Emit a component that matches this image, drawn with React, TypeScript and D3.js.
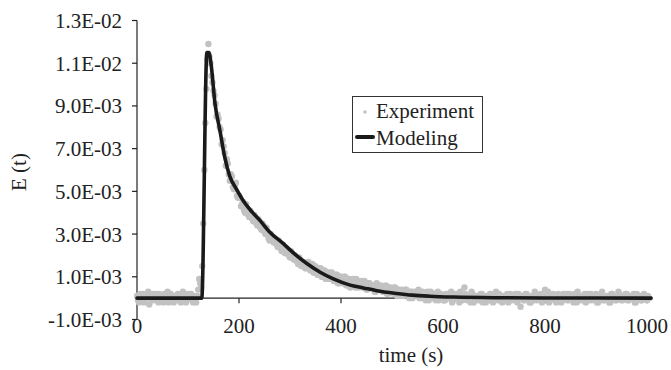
import React from "react";
import * as d3 from "d3";

// ---- Data ----
// Experiment: two interleaved sample sets, every 4 s; values in units of 1E-4
const EXP_STEP = 4;
const EXP_UNIT = 1e-4;
// set A: t = 0, 4, 8, ... 1004
const experimentA: number[] = [
  1, -2, 0, 2, -1, 1, -3, 0, 2, -1,
  0, 2, -1, -2, 1, 3, -1, 0, -2, 1,
  2, -1, 0, 1, -2, 2, 0, -1, 1, -2,
  4, 7, 15, 60, 98, 119, 110, 101, 95, 85,
  84, 79, 74, 68, 65, 58, 58, 52, 53, 48,
  48, 43, 45, 40, 42, 38, 40, 36, 38, 34,
  36, 32, 34, 30, 31, 27, 29, 26, 27, 24,
  25, 22, 24, 21, 22, 19, 21, 18, 19, 16,
  18, 15, 16, 14, 17, 13, 16, 12, 14, 11,
  14, 10, 13, 9, 12, 10, 11, 8, 11, 7,
  10, 8, 10, 6, 9, 7, 9, 5, 8, 6,
  8, 5, 7, 4, 7, 5, 6, 3, 6, 4,
  5, 3, 6, 2, 5, 3, 5, 2, 4, 1,
  4, 2, 4, 1, 3, 0, 3, 2, 4, 0,
  3, 1, 2, -1, 3, 0, 2, 1, -1, 2,
  1, -1, 2, 0, 3, -1, 1, 2, -2, 1,
  0, 2, -1, 1, 3, -2, 0, 1, -1, 2,
  0, -2, 1, 2, -1, 0, 3, -1, 1, -2,
  1, 0, -2, 2, 1, -1, 0, 2, -4, 1,
  -1, 2, 0, -2, 1, 3, -1, 0, 2, -1,
  4, 0, -2, 1, 2, -1, 0, 1, -2, 2,
  0, -1, 2, 1, -2, 0, 3, -1, 1, 0,
  -2, 2, 1, -1, 0, 2, -2, 1, 3, -1,
  0, 1, -2, 2, 0, -1, 3, 1, -1, 0,
  2, -1, 1, 0, -2, 2, 1, -1, 0, 1,
  -1, 0,
];
// set B: t = 2, 6, 10, ... 1002
const experimentB: number[] = [
  -1, 2, 1, -2, 0, 3, 1, -1, 0, 2,
  -2, 1, 0, 2, -1, -2, 2, 1, 0, -1,
  1, -2, 3, 0, -1, 1, 2, -2, 0, 1,
  9, 5, 35, 82, 112, 113, 104, 97, 91, 86,
  80, 72, 71, 62, 63, 55, 57, 51, 54, 47,
  47, 44, 41, 44, 39, 41, 37, 39, 35, 37,
  33, 35, 31, 33, 28, 30, 27, 28, 25, 27,
  23, 25, 21, 23, 20, 22, 19, 20, 17, 19,
  15, 17, 14, 16, 14, 16, 12, 15, 11, 14,
  10, 13, 9, 12, 9, 12, 8, 11, 7, 10,
  7, 10, 6, 9, 5, 8, 6, 9, 5, 7,
  5, 8, 4, 7, 5, 6, 3, 7, 4, 6,
  3, 5, 2, 5, 4, 2, 5, 1, 4, 3,
  1, 4, 2, 0, 3, 2, 1, 3, 0, 2,
  2, -1, 3, 1, 0, 2, -1, 3, 1, 0,
  -1, 2, 0, 1, -2, 2, 1, 0, 3, -1,
  5, 0, 1, -2, 2, 0, -1, 1, 2, -2,
  1, 0, -1, 2, -2, 1, 0, 2, -1, 1,
  -1, 2, 0, -1, 1, 2, -2, 0, 1, -1,
  2, 0, -2, 1, -1, 2, 0, 1, -2, 1,
  0, 3, -1, 1, 0, -2, 2, 1, -1, 0,
  2, -1, 0, 1, 2, -2, 1, 0, -1, 2,
  0, -1, 2, 0, 1, -2, 1, 2, -1, 0,
  1, -2, 2, 0, -1, 1, 2, -1, 0, 2,
  -1, 1, 0, 2, -2, 0, 1, -1, 2, 0,
  1,
];

// Modeling curve: time (s) and E(t)
const modelTimes: number[] = [
  0, 127, 137, 141, 145, 153, 163, 172, 182, 195, 208, 225, 241, 260, 287,
  310, 333, 360, 385, 418, 444, 470, 509, 540, 574, 620, 700, 800, 900, 1008,
];
const modelValues: number[] = [
  0, 0, 11.5e-3, 11.5e-3, 11.0e-3, 9.1e-3, 7.8e-3, 6.6e-3, 5.7e-3, 5.1e-3,
  4.57e-3, 4.05e-3, 3.64e-3, 3.1e-3, 2.55e-3, 2.05e-3, 1.62e-3, 1.2e-3,
  0.9e-3, 0.61e-3, 0.48e-3, 0.35e-3, 0.22e-3, 0.14e-3, 0.09e-3, 0.05e-3,
  0.02e-3, 0.01e-3, 0.01e-3, 0,
];

const yTicks: number[] = [-1e-3, 1e-3, 3e-3, 5e-3, 7e-3, 9e-3, 11e-3, 13e-3];
const yTickLabels: string[] = [
  "-1.0E-03", "1.0E-03", "3.0E-03", "5.0E-03", "7.0E-03", "9.0E-03", "1.1E-02", "1.3E-02",
];
const xTicks: number[] = [0, 200, 400, 600, 800, 1000];
const legendLabels: string[] = ["Experiment", "Modeling"];

export default function App() {
  const W = 671;
  const H = 370;
  const x = d3.scaleLinear().domain([0, 1000]).range([137, 647]);
  const y = d3.scaleLinear().domain([-1e-3, 13e-3]).range([319.5, 20.5]);
  const font = "Liberation Serif";
  const expColor = "#c2c2c2";
  const lineColor = "#1a1a1a";

  const expPts = [
    ...experimentA.map((v, i) => ({ t: i * EXP_STEP, v: v * EXP_UNIT })),
    ...experimentB.map((v, i) => ({ t: 2 + i * EXP_STEP, v: v * EXP_UNIT })),
  ];
  const modelPts = modelTimes.map((t, i) => ({ t, v: modelValues[i] }));
  const line = d3
    .line<{ t: number; v: number }>()
    .x((d) => x(d.t))
    .y((d) => y(d.v))
    .curve(d3.curveMonotoneX);

  const y0 = y(0);
  const xLabelBaseline = 333;

  return (
    <svg width={W} height={H} style={{ position: "absolute", left: 0, top: 0, background: "#fff" }}>
      <rect width={W} height={H} fill="#fff" />
      {/* y axis */}
      <line x1={x(0)} x2={x(0)} y1={y(13e-3)} y2={y(-1e-3)} stroke="#222" strokeWidth={1.2} />
      {yTicks.map((t, i) => (
        <g key={"yt" + i}>
          <line x1={x(0) - 5} x2={x(0)} y1={y(t)} y2={y(t)} stroke="#222" strokeWidth={1.2} />
          <text x={122} y={y(t)} dy="0.36em" textAnchor="end" fontFamily={font} fontSize={21} fill="#222">
            {yTickLabels[i]}
          </text>
        </g>
      ))}
      {/* x axis at zero */}
      <line x1={x(0)} x2={x(1000)} y1={y0} y2={y0} stroke="#222" strokeWidth={1.2} />
      {xTicks.map((t, i) => (
        <g key={"xt" + i}>
          {t !== 0 && <line x1={x(t)} x2={x(t)} y1={y0} y2={y0 + 5} stroke="#222" strokeWidth={1.2} />}
          <text x={x(t)} y={xLabelBaseline} textAnchor="middle" fontFamily={font} fontSize={21} fill="#222">
            {t}
          </text>
        </g>
      ))}
      {/* experiment points */}
      {expPts.map((d, i) => (
        <circle key={"e" + i} cx={x(d.t)} cy={y(d.v)} r={3.2} fill={expColor} />
      ))}
      {/* model line */}
      <path
        d={line(modelPts) || ""}
        fill="none"
        stroke={lineColor}
        strokeWidth={3.6}
        strokeLinejoin="round"
        strokeLinecap="round"
      />
      {/* axis labels */}
      <text x={411} y={362} textAnchor="middle" fontFamily={font} fontSize={21} fill="#222">
        time (s)
      </text>
      <text transform="translate(26,172) rotate(-90)" textAnchor="middle" fontFamily={font} fontSize={21} fill="#222">
        E (t)
      </text>
      {/* legend */}
      <g>
        <rect x={352.5} y={96.5} width={130} height={56} fill="#fff" stroke="#333" strokeWidth={1} />
        <circle cx={365} cy={112} r={1.8} fill={expColor} />
        <line x1={357} x2={373} y1={137} y2={137} stroke={lineColor} strokeWidth={4} strokeLinecap="round" />
        <text x={376} y={118} fontFamily={font} fontSize={21} fill="#222">
          {legendLabels[0]}
        </text>
        <text x={376} y={145} fontFamily={font} fontSize={21} fill="#222">
          {legendLabels[1]}
        </text>
      </g>
    </svg>
  );
}
